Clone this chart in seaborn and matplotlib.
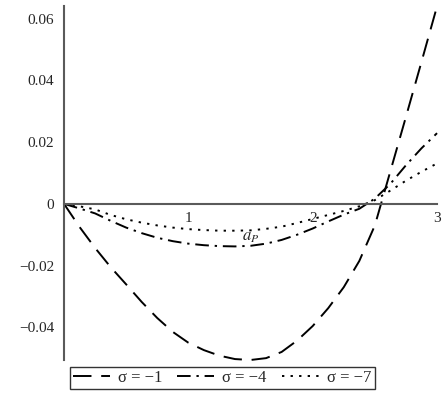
import numpy as np
import matplotlib
matplotlib.use("Agg")
import matplotlib.pyplot as plt
import seaborn as sns

# valeurs
x_vals = [0, 0.125, 0.25, 0.375, 0.5, 0.625, 0.75, 0.875, 1.0, 1.125, 1.25, 1.375, 1.5,
          1.625, 1.75, 1.875, 2.0, 2.125, 2.25, 2.375, 2.5, 2.625, 2.75, 2.875, 3.0]
y_sigma1 = [0, -0.0075, -0.0143, -0.0205, -0.0261, -0.0318, -0.0370, -0.0415, -0.0450,
            -0.0474, -0.0492, -0.0503, -0.0506, -0.0500, -0.0480, -0.0443, -0.0396,
            -0.0338, -0.0270, -0.0185, -0.0070, 0.0106, 0.0282, 0.0460, 0.0640]
y_sigma4 = [0, -0.0015, -0.0031, -0.0055, -0.0077, -0.0095, -0.0110, -0.0121, -0.0129,
            -0.0134, -0.0137, -0.0138, -0.0136, -0.0129, -0.0117, -0.0100, -0.0080,
            -0.0057, -0.0035, -0.0016, 0.0017, 0.0065, 0.0125, 0.0180, 0.0229]
y_sigma7 = [0, -0.0008, -0.0018, -0.0036, -0.0050, -0.0061, -0.0070, -0.0077, -0.0082,
            -0.0085, -0.0087, -0.0087, -0.0086, -0.0081, -0.0074, -0.0062, -0.0049,
            -0.0036, -0.0023, -0.0008, 0.0012, 0.0043, 0.0075, 0.0104, 0.0131]
labels = ["σ = −1", "σ = −4", "σ = −7"]
x_ticks = [1, 2, 3]
y_ticks = [-0.04, -0.02, 0, 0.02, 0.04, 0.06]
y_ticklabels = ["−0.04", "−0.02", "0", "0.02", "0.04", "0.06"]

sns.set_style("white")
plt.rcParams['font.family'] = ['Liberation Serif', 'DejaVu Serif']
plt.rcParams['mathtext.fontset'] = 'stix'

fig = plt.figure(figsize=(4.47, 3.98), dpi=100)
ax = fig.add_axes([0.1432, 0.0955, 0.8345, 0.8894])

styles = [(0, (9.5, 5)), (0, (7, 3, 1.2, 3)), (0, (1.2, 3.2))]
series = [y_sigma1, y_sigma4, y_sigma7]
for ys, lab, ls in zip(series, labels, styles):
    sns.lineplot(x=x_vals, y=ys, ax=ax, color="black", linestyle=ls,
                 linewidth=1.4, label=lab, clip_on=False)

ax.set_xlim(0, 3.0)
ax.set_ylim(-0.0506, 0.0641)

# axes croisés à l'origine
for s in ["top", "right"]:
    ax.spines[s].set_visible(False)
ax.spines["left"].set_position(("data", 0))
ax.spines["bottom"].set_position(("data", 0))
for s in ["left", "bottom"]:
    ax.spines[s].set_color("#5a5a5a")
    ax.spines[s].set_linewidth(1.5)

ax.set_xticks(x_ticks)
ax.set_xticks([0.5, 1.5, 2.5], minor=True)
ax.set_yticks(y_ticks)
ax.set_yticklabels(y_ticklabels)
ax.set_yticks([-0.05, -0.03, -0.01, 0.01, 0.03, 0.05], minor=True)
ax.tick_params(axis="both", which="major", length=4, width=0.8, color="#777777",
               labelsize=11, direction="out", pad=3)
ax.tick_params(axis="both", which="minor", length=2, width=0.6, color="#777777",
               direction="out")
ax.tick_params(axis="x", pad=2)
ax.grid(False)

ax.text(1.5, -0.0082, r"$a_P$", ha="center", va="top", fontsize=12)

ax.get_legend().remove()
handles, labs = ax.get_legend_handles_labels()
leg = fig.legend(handles, labs, loc="center", bbox_to_anchor=(0.497, 0.05), ncol=3,
                 frameon=True, fancybox=False, edgecolor="black", fontsize=12,
                 borderpad=0.2, handlelength=2.2, columnspacing=0.9,
                 handletextpad=0.5, borderaxespad=0)
leg.get_frame().set_linewidth(1.0)

fig.savefig("out.png", dpi=100)
